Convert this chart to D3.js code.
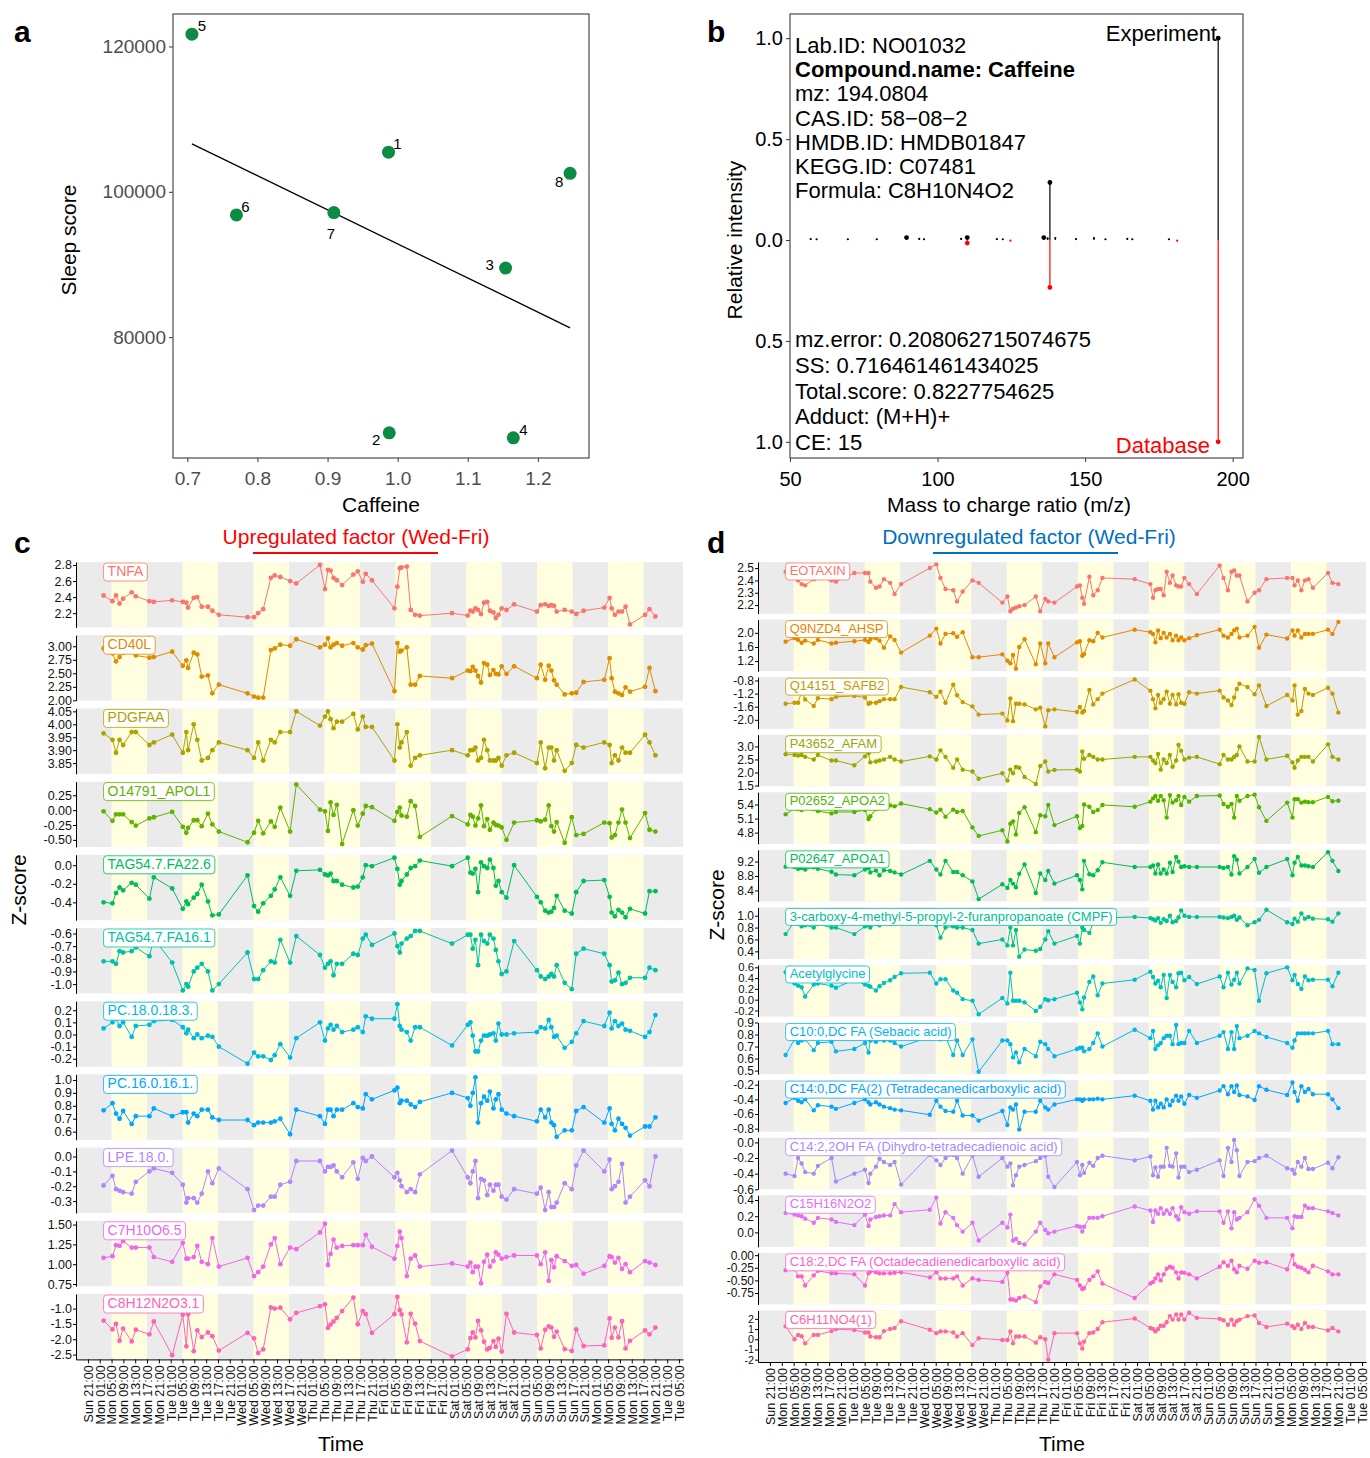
<!DOCTYPE html>
<html>
<head>
<meta charset="utf-8">
<script src="https://cdn.jsdelivr.net/npm/d3@7"></script>
<style>
body { margin: 0; background: #fff; }
svg { font-family: "Liberation Sans", Arial, Helvetica, sans-serif; }
</style>
</head>
<body>
<svg width="1370" height="1458"></svg>
<script>
// ---- panel a: caffeine vs sleep score
var subjects = [1, 2, 3, 4, 5, 6, 7, 8];
var caffeine = [0.987, 0.988, 1.154, 1.165, 0.7065, 0.770, 0.909, 1.246];
var sleepScore = [105460, 66840, 89510, 66150, 121690, 96820, 97140, 102540];
var caffeineTicks = [0.7, 0.8, 0.9, 1.0, 1.1, 1.2];
var sleepTicks = [80000, 100000, 120000];

// ---- panel b: MS2 spectrum match
var expMz = [57.0, 59.0, 69.6, 79.4, 89.5, 93.8, 95.4, 108.0, 110.07, 120.1, 122.1, 136.0, 137.3, 138.07, 139.9, 146.9, 153.0, 156.9, 164.3, 166.0, 178.4, 195.09];
var expInt = [0.005, 0.004, 0.004, 0.004, 0.012, 0.006, 0.004, 0.006, 0.012, 0.005, 0.004, 0.012, 0.008, 0.285, 0.010, 0.005, 0.010, 0.004, 0.006, 0.004, 0.004, 1.0];
var dbMz = [110.07, 124.7, 138.07, 181.2, 195.09];
var dbInt = [0.015, 0.003, 0.235, 0.003, 1.0];
var infoTop = ["Lab.ID: NO01032", "Compound.name: Caffeine", "mz: 194.0804", "CAS.ID: 58\u221208\u22122", "HMDB.ID: HMDB01847", "KEGG.ID: C07481", "Formula: C8H10N4O2"];
var infoBottom = ["mz.error: 0.208062715074675", "SS: 0.716461461434025", "Total.score: 0.8227754625", "Adduct: (M+H)+", "CE: 15"];

// ---- panels c/d: sampling times (hours after Sun 21:00) and day bands (05:00-17:00)
var times = [5.3, 8.3, 9.5, 10.7, 11.9, 14.8, 16.2, 20.8, 22.3, 28.5,
  32.1, 33.3, 33.9, 35.8, 37, 38.5, 40.6, 42.1, 44.3, 54,
  56.2, 57.6, 59.3, 61.9, 63.2, 65.1, 68.4, 70.5, 78.5, 80.2,
  81.2, 82.1, 83.1, 84.2, 86, 89.8, 91.3, 93, 94, 96.1,
  103.7, 104.7, 105.5, 106.1, 107.9, 109.2, 110.7, 112.3, 123.2, 128.5,
  129.4, 130.2, 131.1, 132, 133, 134, 135.1, 136, 137.2, 138,
  138.9, 140, 141.6, 144.2, 151.9, 153.2, 154.7, 155.9, 156.8, 157.7,
  158.6, 161.3, 163.7, 165.2, 167.7, 174.7, 176.5, 177.2, 178.3, 179.5,
  180.7, 181.9, 183.4, 188.5, 190, 192];
var dayStarts = [8, 32, 56, 80, 104, 128, 152, 176];

// upregulated factor
var tnfa = [2.42, 2.35, 2.42, 2.32, 2.38, 2.46, 2.41, 2.35, 2.34, 2.36,
  2.34, 2.33, 2.27, 2.39, 2.40, 2.28, 2.28, 2.23, 2.18, 2.15,
  2.15, 2.20, 2.25, 2.64, 2.67, 2.65, 2.60, 2.57, 2.80, 2.50,
  2.74, 2.73, 2.64, 2.61, 2.55, 2.68, 2.72, 2.59, 2.69, 2.61,
  2.26, 2.53, 2.76, 2.77, 2.78, 2.24, 2.18, 2.17, 2.20, 2.17,
  2.23, 2.22, 2.26, 2.24, 2.19, 2.33, 2.34, 2.23, 2.21, 2.14,
  2.18, 2.26, 2.24, 2.31, 2.22, 2.30, 2.31, 2.29, 2.30, 2.29,
  2.22, 2.24, 2.22, 2.19, 2.23, 2.27, 2.39, 2.26, 2.18, 2.22,
  2.22, 2.28, 2.06, 2.18, 2.25, 2.16];
var cd40l = [2.96, 2.87, 2.72, 2.80, 2.88, 2.93, 2.83, 2.79, 2.80, 2.90,
  2.64, 2.74, 2.60, 2.88, 2.85, 2.44, 2.46, 2.13, 2.29, 2.13,
  2.07, 2.05, 2.05, 2.93, 2.96, 3.03, 3.01, 3.13, 2.98, 3.03,
  3.15, 2.98, 3.03, 3.06, 3.01, 3.06, 2.98, 2.94, 3.02, 3.05,
  2.17, 3.06, 2.90, 2.92, 2.98, 2.29, 2.29, 2.45, 2.41, 2.55,
  2.54, 2.62, 2.55, 2.45, 2.33, 2.69, 2.66, 2.47, 2.56, 2.49,
  2.48, 2.63, 2.49, 2.63, 2.41, 2.66, 2.38, 2.64, 2.55, 2.37,
  2.29, 2.11, 2.13, 2.14, 2.34, 2.38, 2.78, 2.41, 2.16, 2.13,
  2.10, 2.24, 2.16, 2.25, 2.60, 2.17];
var pdgfaa = [3.965, 3.94, 3.89, 3.94, 3.92, 3.97, 3.97, 3.92, 3.93, 3.96,
  3.89, 3.97, 3.90, 4.00, 3.94, 3.86, 3.87, 3.90, 3.93, 3.90,
  3.87, 3.93, 3.86, 3.94, 3.93, 3.97, 3.97, 4.05, 3.995, 4.03,
  4.05, 4.02, 3.985, 4.01, 4.01, 4.04, 3.98, 4.03, 3.99, 3.99,
  3.86, 4.00, 3.91, 3.93, 3.97, 3.84, 3.87, 3.88, 3.90, 3.88,
  3.90, 3.90, 3.91, 3.86, 3.87, 3.94, 3.90, 3.86, 3.86, 3.86,
  3.87, 3.84, 3.88, 3.89, 3.85, 3.93, 3.83, 3.91, 3.91, 3.86,
  3.90, 3.82, 3.85, 3.92, 3.91, 3.93, 3.92, 3.85, 3.88, 3.86,
  3.91, 3.89, 3.89, 3.96, 3.93, 3.88];
var apol1 = [-0.02, -0.18, -0.07, -0.07, -0.07, -0.20, -0.26, -0.14, -0.12, -0.03,
  -0.28, -0.38, -0.30, -0.17, -0.17, -0.27, -0.06, -0.24, -0.36, -0.54,
  -0.38, -0.18, -0.39, -0.19, -0.28, 0.04, -0.36, 0.43, 0.01, -0.02,
  -0.35, 0.13, -0.08, 0.09, -0.57, 0.00, -0.26, -0.06, 0.07, 0.05,
  -0.18, -0.03, 0.04, -0.09, -0.11, 0.15, 0.07, -0.45, -0.10, -0.24,
  -0.08, -0.11, -0.26, -0.14, 0.08, -0.27, -0.15, -0.33, -0.21, -0.25,
  -0.26, -0.29, -0.50, -0.21, -0.17, -0.19, -0.16, 0.08, -0.27, -0.36,
  -0.20, -0.55, -0.12, -0.42, -0.40, -0.21, -0.22, -0.46, -0.42, -0.21,
  0.01, -0.21, -0.47, -0.05, -0.33, -0.36];
var tag226 = [-0.40, -0.41, -0.30, -0.24, -0.27, -0.19, -0.21, -0.36, -0.13, -0.25,
  -0.47, -0.39, -0.42, -0.35, -0.31, -0.21, -0.39, -0.54, -0.53, -0.11,
  -0.44, -0.50, -0.41, -0.33, -0.26, -0.13, -0.33, -0.06, -0.05, -0.10,
  -0.11, -0.09, -0.17, -0.17, -0.21, -0.24, -0.23, -0.13, 0.00, -0.01,
  0.08, -0.04, -0.21, -0.17, -0.10, -0.03, -0.01, 0.05, -0.01, 0.08,
  -0.08, -0.09, -0.04, -0.29, 0.03, -0.01, -0.03, 0.06, -0.03, -0.22,
  -0.17, -0.29, -0.35, 0.00, -0.34, -0.40, -0.49, -0.51, -0.50, -0.46,
  -0.33, -0.49, -0.52, -0.29, -0.17, -0.16, -0.34, -0.51, -0.55, -0.48,
  -0.51, -0.56, -0.47, -0.52, -0.28, -0.28];
var tag161 = [-0.82, -0.82, -0.84, -0.74, -0.75, -0.74, -0.71, -0.78, -0.64, -0.83,
  -1.05, -1.00, -1.02, -0.90, -0.87, -0.84, -0.90, -1.05, -1.00, -0.75,
  -0.96, -0.96, -0.89, -0.82, -0.83, -0.65, -0.83, -0.62, -0.77, -0.87,
  -0.84, -0.82, -0.93, -0.84, -0.84, -0.76, -0.77, -0.64, -0.61, -0.69,
  -0.60, -0.70, -0.75, -0.68, -0.64, -0.62, -0.58, -0.58, -0.68, -0.61,
  -0.61, -0.72, -0.65, -0.85, -0.61, -0.66, -0.68, -0.61, -0.64, -0.73,
  -0.82, -0.92, -0.90, -0.66, -0.89, -0.94, -0.96, -0.94, -0.92, -0.94,
  -0.85, -0.99, -1.04, -0.76, -0.72, -0.76, -0.85, -0.98, -0.97, -0.91,
  -1.00, -0.99, -0.95, -0.95, -0.87, -0.89];
var pc1818 = [0.05, 0.10, 0.13, 0.07, 0.10, -0.02, 0.07, 0.08, 0.11, 0.12,
  0.06, 0.01, 0.04, -0.03, 0.00, -0.03, -0.01, -0.02, -0.10, -0.24,
  -0.15, -0.18, -0.18, -0.21, -0.17, -0.08, -0.19, -0.03, 0.10, -0.05,
  0.05, 0.08, 0.04, 0.07, 0.02, 0.04, 0.06, 0.02, 0.15, 0.13,
  0.13, 0.25, 0.07, 0.04, 0.02, -0.05, 0.06, 0.06, -0.09, 0.08,
  0.10, -0.01, -0.14, -0.14, -0.05, -0.01, -0.01, 0.00, 0.01, -0.05,
  0.09, 0.00, 0.00, 0.01, 0.02, 0.06, 0.05, 0.12, 0.06, -0.02,
  -0.01, -0.11, -0.06, 0.01, 0.11, 0.07, 0.18, 0.05, 0.11, 0.07,
  0.09, 0.04, 0.03, -0.02, 0.02, 0.16];
var pc1616 = [0.765, 0.82, 0.74, 0.70, 0.76, 0.66, 0.72, 0.72, 0.78, 0.72,
  0.75, 0.75, 0.67, 0.74, 0.72, 0.77, 0.77, 0.71, 0.69, 0.69,
  0.65, 0.67, 0.67, 0.67, 0.68, 0.70, 0.58, 0.77, 0.72, 0.66,
  0.77, 0.77, 0.72, 0.77, 0.77, 0.82, 0.79, 0.78, 0.89, 0.85,
  0.92, 0.94, 0.82, 0.84, 0.84, 0.81, 0.79, 0.83, 0.90, 0.86,
  0.80, 0.90, 1.02, 0.67, 0.82, 0.87, 0.84, 0.91, 0.78, 0.85,
  0.89, 0.77, 0.74, 0.72, 0.68, 0.77, 0.71, 0.77, 0.67, 0.65,
  0.56, 0.61, 0.61, 0.76, 0.79, 0.67, 0.78, 0.66, 0.61, 0.70,
  0.66, 0.63, 0.57, 0.64, 0.64, 0.71];
var lpe180 = [-0.195, -0.13, -0.22, -0.23, -0.24, -0.25, -0.17, -0.10, -0.08, -0.11,
  -0.19, -0.31, -0.28, -0.28, -0.31, -0.25, -0.10, -0.18, -0.08, -0.22,
  -0.36, -0.33, -0.33, -0.27, -0.27, -0.19, -0.17, -0.03, -0.03, -0.10,
  -0.07, -0.07, -0.06, -0.10, -0.14, -0.04, -0.15, -0.01, -0.03, 0.00,
  -0.14, -0.11, -0.16, -0.20, -0.24, -0.22, -0.24, -0.12, 0.04, -0.14,
  -0.18, -0.10, -0.03, -0.28, -0.15, -0.16, -0.26, -0.19, -0.23, -0.19,
  -0.19, -0.27, -0.29, -0.22, -0.25, -0.21, -0.36, -0.24, -0.34, -0.34,
  -0.31, -0.18, -0.22, -0.06, 0.04, -0.10, -0.02, -0.22, -0.20, -0.17,
  -0.05, -0.31, -0.27, -0.16, -0.20, 0.00];
var c7h10 = [1.08, 1.10, 1.24, 1.23, 1.29, 1.21, 1.21, 1.21, 1.09, 1.03,
  1.27, 1.07, 1.07, 1.09, 1.23, 1.03, 1.00, 1.33, 0.97, 1.08,
  0.85, 0.90, 0.97, 1.25, 1.33, 1.00, 1.21, 1.19, 1.40, 1.51,
  0.99, 1.13, 1.31, 1.21, 1.23, 1.24, 1.24, 1.24, 1.37, 1.22,
  1.07, 1.23, 1.41, 1.33, 0.85, 1.07, 1.11, 0.97, 1.01, 0.97,
  1.02, 0.90, 0.97, 0.97, 0.76, 1.03, 1.12, 0.97, 1.04, 1.15,
  1.12, 1.07, 1.09, 1.11, 1.11, 1.00, 1.15, 0.79, 1.05, 0.96,
  1.10, 1.04, 0.98, 0.99, 0.88, 0.98, 1.10, 1.09, 1.02, 1.08,
  0.94, 1.00, 0.90, 1.04, 1.02, 0.99];
var c8h12 = [-1.39, -1.68, -1.50, -2.05, -1.65, -2.07, -1.69, -1.84, -1.42, -2.52,
  -1.20, -2.23, -1.18, -2.39, -1.71, -1.93, -1.78, -1.90, -2.37, -1.79,
  -1.97, -2.45, -2.33, -0.96, -1.00, -0.97, -1.35, -1.14, -0.92, -0.86,
  -1.63, -1.52, -1.42, -1.30, -1.08, -0.64, -1.51, -1.08, -1.18, -1.79,
  -1.18, -0.62, -1.05, -1.19, -2.10, -1.17, -1.49, -2.06, -2.56, -2.33,
  -1.96, -1.78, -1.94, -1.40, -1.71, -2.08, -2.33, -2.28, -2.06, -2.25,
  -1.98, -2.40, -1.17, -1.78, -1.86, -2.30, -1.69, -1.58, -1.62, -1.92,
  -1.75, -2.32, -2.38, -1.68, -2.22, -2.20, -1.32, -1.95, -1.62, -1.94,
  -1.41, -2.30, -2.05, -1.71, -1.84, -1.62];

// downregulated factor
var eotaxin = [2.47, 2.45, 2.40, 2.37, 2.36, 2.41, 2.42, 2.40, 2.39, 2.46,
  2.46, 2.46, 2.39, 2.34, 2.35, 2.41, 2.38, 2.29, 2.37, 2.50,
  2.53, 2.42, 2.33, 2.32, 2.23, 2.31, 2.40, 2.38, 2.22, 2.27,
  2.15, 2.17, 2.18, 2.19, 2.20, 2.27, 2.15, 2.25, 2.23, 2.22,
  2.35, 2.36, 2.26, 2.21, 2.43, 2.28, 2.32, 2.42, 2.41, 2.37,
  2.26, 2.32, 2.33, 2.33, 2.28, 2.47, 2.38, 2.44, 2.36, 2.35,
  2.35, 2.42, 2.37, 2.29, 2.52, 2.42, 2.32, 2.47, 2.48, 2.44,
  2.44, 2.23, 2.30, 2.32, 2.41, 2.42, 2.42, 2.36, 2.40, 2.32,
  2.40, 2.41, 2.34, 2.46, 2.38, 2.37];
var ahsp = [1.75, 1.85, 1.80, 1.72, 1.78, 1.70, 1.80, 1.70, 1.72, 1.76,
  1.80, 1.74, 1.82, 1.85, 1.78, 1.58, 1.90, 1.80, 1.44, 1.92,
  2.12, 1.70, 1.97, 1.99, 1.89, 2.02, 1.31, 1.31, 1.39, 1.21,
  1.14, 1.37, 0.98, 1.60, 1.82, 1.11, 1.70, 1.14, 1.70, 1.31,
  1.73, 1.76, 1.35, 1.40, 1.79, 1.76, 2.00, 1.87, 2.09, 2.02,
  1.97, 1.73, 2.07, 1.85, 2.00, 1.87, 1.97, 1.79, 1.92, 1.79,
  1.87, 1.79, 1.85, 1.93, 2.09, 1.92, 1.87, 1.97, 2.07, 2.12,
  1.87, 1.92, 2.17, 1.58, 1.95, 1.84, 2.07, 1.92, 2.07, 1.87,
  1.97, 1.97, 1.97, 2.09, 1.97, 2.31];
var safb2 = [-1.51, -1.48, -1.48, -1.14, -1.38, -1.58, -1.34, -1.37, -1.30, -1.27,
  -1.32, -1.51, -1.48, -1.48, -1.43, -1.37, -1.37, -1.37, -1.00, -1.16,
  -1.30, -1.14, -1.48, -0.93, -1.25, -1.46, -1.59, -1.84, -1.81, -2.02,
  -1.35, -2.04, -1.51, -1.51, -1.53, -1.68, -1.63, -2.20, -1.71, -1.68,
  -1.76, -1.61, -1.78, -1.73, -1.09, -1.53, -1.37, -1.20, -0.77, -1.11,
  -1.37, -1.65, -1.24, -1.48, -1.37, -1.14, -1.51, -1.24, -1.53, -1.22,
  -1.48, -1.51, -1.16, -1.20, -1.11, -1.32, -1.41, -1.55, -1.32, -1.06,
  -0.90, -1.00, -1.22, -0.95, -1.58, -1.24, -1.41, -0.95, -1.84, -1.73,
  -1.06, -1.20, -1.24, -1.02, -1.20, -1.78];
var afam = [2.70, 2.67, 2.65, 2.67, 2.60, 2.50, 2.67, 2.46, 2.46, 2.28,
  2.62, 2.74, 2.39, 2.42, 2.46, 2.50, 2.60, 2.50, 2.42, 2.62,
  2.50, 2.85, 2.60, 2.18, 2.50, 2.11, 2.04, 1.76, 1.97, 1.69,
  2.11, 1.97, 2.21, 2.18, 1.83, 1.56, 2.25, 2.42, 2.04, 2.10,
  2.11, 2.04, 2.81, 2.53, 2.67, 2.60, 2.50, 2.50, 2.60, 2.60,
  2.46, 2.36, 2.71, 2.11, 2.50, 2.36, 2.67, 2.22, 2.46, 3.06,
  2.83, 2.50, 2.57, 2.60, 2.32, 2.67, 2.50, 2.50, 2.60, 2.67,
  3.00, 2.42, 2.42, 3.36, 2.50, 2.64, 2.39, 2.18, 2.46, 2.60,
  2.60, 2.60, 2.42, 3.08, 2.60, 2.50];
var apoa2 = [5.19, 5.32, 5.30, 5.28, 5.34, 5.30, 5.26, 5.21, 5.24, 5.24,
  5.28, 5.09, 5.15, 5.30, 5.34, 5.36, 5.38, 5.36, 5.42, 5.30,
  5.23, 5.29, 5.14, 5.29, 5.24, 5.26, 4.91, 4.73, 4.85, 4.61,
  4.99, 5.04, 4.76, 5.22, 5.34, 4.81, 5.17, 5.15, 5.39, 4.96,
  5.15, 4.90, 4.94, 5.40, 5.35, 5.24, 5.28, 5.39, 5.35, 5.46,
  5.53, 5.58, 5.48, 5.58, 5.49, 5.12, 5.60, 5.44, 5.49, 5.58,
  5.39, 5.56, 5.46, 5.58, 5.59, 5.41, 5.35, 5.41, 5.12, 5.58,
  5.48, 5.58, 5.61, 5.34, 5.05, 5.44, 5.12, 5.51, 5.51, 5.44,
  5.46, 5.45, 5.45, 5.56, 5.47, 5.48];
var apoa1 = [9.06, 9.05, 9.00, 9.02, 8.98, 9.04, 9.00, 8.92, 8.84, 8.82,
  8.98, 9.02, 8.90, 8.95, 8.82, 8.96, 8.94, 8.90, 8.84, 9.22,
  8.98, 8.84, 9.22, 8.91, 8.91, 8.82, 8.65, 8.16, 8.57, 8.47,
  8.69, 8.59, 8.49, 8.86, 9.12, 8.33, 8.87, 8.69, 8.94, 8.59,
  8.82, 8.69, 8.43, 9.22, 8.85, 8.82, 8.96, 9.18, 9.05, 9.05,
  9.09, 8.87, 9.12, 8.87, 8.98, 8.87, 9.17, 8.91, 9.33, 9.20,
  9.05, 9.07, 9.05, 9.05, 9.05, 9.02, 9.05, 8.84, 9.35, 9.25,
  8.87, 9.05, 9.27, 8.89, 9.05, 9.27, 8.82, 9.17, 9.33, 9.09,
  9.09, 9.07, 9.05, 9.46, 9.22, 8.94];
var cmpf = [0.69, 0.90, 0.86, 0.82, 0.84, 0.80, 0.86, 0.80, 0.80, 0.69,
  0.82, 0.84, 0.80, 0.86, 0.84, 0.88, 0.86, 0.90, 0.92, 0.90,
  0.84, 0.63, 0.80, 0.82, 0.80, 0.80, 0.76, 0.53, 0.60, 0.50,
  0.80, 0.50, 0.76, 0.31, 0.43, 0.41, 0.44, 0.60, 0.74, 0.53,
  0.66, 0.53, 0.80, 0.76, 0.71, 0.88, 0.92, 0.96, 0.98, 0.96,
  0.94, 0.92, 0.96, 0.88, 0.94, 0.91, 1.00, 0.89, 0.91, 0.97,
  1.09, 1.00, 0.98, 0.98, 0.98, 0.97, 0.96, 0.98, 1.00, 0.93,
  0.97, 0.84, 0.89, 0.93, 1.10, 0.89, 0.86, 0.95, 0.90, 1.04,
  0.95, 0.98, 0.95, 0.94, 0.90, 1.04];
var acetylglycine = [0.51, 0.30, 0.26, 0.23, 0.06, 0.28, 0.30, 0.26, 0.22, 0.37,
  0.28, 0.26, 0.24, 0.17, 0.25, 0.31, 0.36, 0.42, 0.49, 0.50,
  0.30, 0.38, 0.38, 0.17, 0.13, 0.01, -0.02, -0.27, 0.03, -0.07,
  0.50, -0.02, -0.02, -0.02, -0.05, -0.21, -0.13, 0.01, -0.01, 0.01,
  0.13, -0.05, -0.18, 0.04, 0.33, 0.43, 0.08, 0.30, 0.37, 0.52,
  0.42, 0.30, 0.35, 0.23, 0.46, 0.03, 0.46, 0.33, 0.23, 0.49,
  0.50, 0.36, 0.42, 0.29, 0.43, 0.23, 0.50, 0.28, 0.37, 0.50,
  0.30, 0.58, 0.55, -0.02, 0.49, 0.60, 0.36, 0.46, 0.29, 0.20,
  0.43, 0.36, 0.37, 0.37, 0.25, 0.50];
var c100dc = [0.63, 0.76, 0.73, 0.75, 0.76, 0.67, 0.73, 0.74, 0.66, 0.68,
  0.73, 0.65, 0.75, 0.74, 0.76, 0.75, 0.75, 0.73, 0.70, 0.78,
  0.80, 0.76, 0.78, 0.63, 0.75, 0.63, 0.76, 0.49, 0.75, 0.75,
  0.72, 0.61, 0.65, 0.57, 0.68, 0.62, 0.74, 0.72, 0.68, 0.62,
  0.68, 0.69, 0.69, 0.66, 0.68, 0.73, 0.81, 0.70, 0.84, 0.77,
  0.83, 0.68, 0.71, 0.73, 0.77, 0.79, 0.79, 0.72, 0.88, 0.72,
  0.73, 0.73, 0.83, 0.73, 0.79, 0.82, 0.68, 0.82, 0.68, 0.87,
  0.77, 0.79, 0.83, 0.81, 0.78, 0.73, 0.69, 0.75, 0.81, 0.81,
  0.81, 0.81, 0.81, 0.83, 0.72, 0.72];
var c140dc = [-0.45, -0.38, -0.42, -0.44, -0.40, -0.55, -0.48, -0.50, -0.53, -0.45,
  -0.40, -0.44, -0.47, -0.44, -0.47, -0.50, -0.52, -0.54, -0.55, -0.61,
  -0.42, -0.50, -0.56, -0.57, -0.42, -0.62, -0.62, -0.69, -0.56, -0.75,
  -0.51, -0.54, -0.47, -0.81, -0.57, -0.57, -0.42, -0.51, -0.54, -0.47,
  -0.40, -0.40, -0.42, -0.40, -0.40, -0.40, -0.39, -0.40, -0.35, -0.42,
  -0.54, -0.42, -0.51, -0.46, -0.51, -0.40, -0.48, -0.42, -0.35, -0.42,
  -0.36, -0.46, -0.34, -0.38, -0.28, -0.22, -0.33, -0.22, -0.30, -0.21,
  -0.34, -0.36, -0.41, -0.22, -0.27, -0.34, -0.17, -0.30, -0.42, -0.22,
  -0.30, -0.26, -0.33, -0.33, -0.40, -0.52];
var c142oh = [-0.40, -0.43, -0.20, -0.27, -0.38, -0.40, -0.30, -0.20, -0.50, -0.40,
  -0.35, -0.52, -0.40, -0.31, -0.21, -0.25, -0.29, -0.25, -0.54, -0.16,
  -0.23, -0.29, -0.20, -0.16, -0.20, -0.40, -0.17, -0.44, -0.20, -0.31,
  -0.27, -0.55, -0.42, -0.31, -0.29, -0.24, -0.20, -0.17, -0.44, -0.57,
  -0.25, -0.42, -0.29, -0.39, -0.26, -0.30, -0.20, -0.17, -0.23, -0.18,
  -0.42, -0.32, -0.44, -0.31, -0.31, -0.07, -0.30, -0.31, -0.14, -0.45,
  -0.31, -0.31, -0.38, -0.35, -0.23, -0.43, -0.07, -0.25, 0.03, -0.10,
  -0.43, -0.25, -0.24, -0.20, -0.17, -0.33, -0.35, -0.40, -0.25, -0.31,
  -0.20, -0.34, -0.34, -0.26, -0.33, -0.19];
var c15h16 = [0.24, 0.22, 0.21, 0.20, 0.17, 0.12, 0.18, 0.16, 0.13, 0.09,
  0.22, 0.08, 0.16, 0.19, 0.20, 0.21, 0.21, 0.35, 0.25, 0.28,
  0.43, 0.11, 0.25, 0.18, 0.09, 0.01, 0.12, -0.10, 0.12, 0.06,
  0.22, -0.10, -0.08, -0.13, -0.15, 0.01, 0.12, 0.03, -0.01, 0.01,
  0.08, 0.07, 0.01, 0.07, 0.18, 0.18, 0.18, 0.20, 0.32, 0.27,
  0.13, 0.27, 0.23, 0.30, 0.23, 0.27, 0.23, 0.30, 0.20, 0.16,
  0.31, 0.25, 0.23, 0.26, 0.26, 0.12, 0.26, 0.05, 0.25, 0.16,
  0.18, 0.25, 0.41, 0.33, 0.18, 0.18, 0.05, 0.20, 0.19, 0.19,
  0.33, 0.30, 0.30, 0.26, 0.24, 0.21];
var c182dc = [-0.30, -0.27, -0.42, -0.42, -0.60, -0.40, -0.31, -0.36, -0.36, -0.38,
  -0.60, -0.36, -0.32, -0.34, -0.36, -0.36, -0.36, -0.35, -0.34, -0.44,
  -0.34, -0.46, -0.46, -0.46, -0.42, -0.60, -0.46, -0.49, -0.53, -0.35,
  -0.88, -0.88, -0.90, -0.85, -0.82, -0.93, -0.62, -0.53, -0.55, -0.38,
  -0.49, -0.60, -0.67, -0.65, -0.49, -0.42, -0.32, -0.56, -0.85, -0.56,
  -0.53, -0.46, -0.38, -0.50, -0.38, -0.27, -0.23, -0.25, -0.34, -0.46,
  -0.34, -0.35, -0.38, -0.46, -0.23, -0.14, -0.21, -0.11, -0.28, -0.34,
  -0.21, -0.27, -0.11, -0.15, -0.14, -0.28, 0.00, -0.18, -0.23, -0.25,
  -0.29, -0.34, -0.21, -0.32, -0.38, -0.38];
var c6h11 = [1.27, 0.00, 0.43, 0.30, -0.40, 0.43, 0.43, 0.80, 1.00, 0.90,
  0.67, 0.67, 0.27, 0.20, 0.20, 0.80, 1.00, 1.10, 1.77, 0.93,
  0.60, 0.77, 0.77, 0.67, 0.27, 0.60, -0.57, 0.10, -0.07, -0.07,
  0.77, -0.40, 0.27, 0.27, 0.27, -0.33, 0.20, 0.00, -2.00, 0.60,
  0.60, -0.40, -0.90, -0.23, 0.60, 0.67, 1.00, 1.67, 2.03, 1.10,
  1.00, 0.77, 1.00, 1.33, 1.33, 1.67, 2.27, 1.93, 2.43, 1.93,
  2.43, 1.93, 2.60, 2.10, 2.00, 1.87, 1.43, 1.93, 1.43, 1.77,
  1.93, 2.27, 2.33, 1.60, 1.20, 1.53, 1.27, 1.10, 1.43, 1.00,
  1.60, 1.20, 1.20, 0.87, 1.10, 0.77];

var upNames = ["TNFA", "CD40L", "PDGFAA", "O14791_APOL1", "TAG54.7.FA22.6", "TAG54.7.FA16.1", "PC.18.0.18.3.", "PC.16.0.16.1.", "LPE.18.0.", "C7H10O6.5", "C8H12N2O3.1"];
var upValues = [tnfa, cd40l, pdgfaa, apol1, tag226, tag161, pc1818, pc1616, lpe180, c7h10, c8h12];
var upTicks = [["2.2", "2.4", "2.6", "2.8"], ["2.00", "2.25", "2.50", "2.75", "3.00"], ["3.85", "3.90", "3.95", "4.00", "4.05"],
  ["-0.50", "-0.25", "0.00", "0.25"], ["-0.4", "-0.2", "0.0"], ["-1.0", "-0.9", "-0.8", "-0.7", "-0.6"],
  ["-0.2", "-0.1", "0.0", "0.1", "0.2"], ["0.6", "0.7", "0.8", "0.9", "1.0"], ["-0.3", "-0.2", "-0.1", "0.0"],
  ["0.75", "1.00", "1.25", "1.50"], ["-2.5", "-2.0", "-1.5", "-1.0"]];
var upColors = ["#F8766D", "#DB8E00", "#AEA200", "#64B200", "#00BD5C", "#00C1A7", "#00BADE", "#00A6FF", "#B385FF", "#EF67EB", "#FF63B6"];

var downNames = ["EOTAXIN", "Q9NZD4_AHSP", "Q14151_SAFB2", "P43652_AFAM", "P02652_APOA2", "P02647_APOA1",
  "3-carboxy-4-methyl-5-propyl-2-furanpropanoate (CMPF)", "Acetylglycine", "C10:0,DC FA (Sebacic acid)",
  "C14:0,DC FA(2) (Tetradecanedicarboxylic acid)", "C14:2,2OH FA (Dihydro-tetradecadienoic acid)", "C15H16N2O2",
  "C18:2,DC FA (Octadecadienedicarboxylic acid)", "C6H11NO4(1)"];
var downValues = [eotaxin, ahsp, safb2, afam, apoa2, apoa1, cmpf, acetylglycine, c100dc, c140dc, c142oh, c15h16, c182dc, c6h11];
var downTicks = [["2.2", "2.3", "2.4", "2.5"], ["1.2", "1.6", "2.0"], ["-2.0", "-1.6", "-1.2", "-0.8"], ["1.5", "2.0", "2.5", "3.0"],
  ["4.8", "5.1", "5.4"], ["8.4", "8.8", "9.2"], ["0.4", "0.6", "0.8", "1.0"], ["-0.2", "0.0", "0.2", "0.4", "0.6"],
  ["0.5", "0.6", "0.7", "0.8", "0.9"], ["-0.8", "-0.6", "-0.4", "-0.2"], ["-0.6", "-0.4", "-0.2", "0.0"], ["0.0", "0.2", "0.4"],
  ["-0.75", "-0.50", "-0.25", "0.00"], ["-2", "-1", "0", "1", "2"]];
var downColors = ["#F8766D", "#E38900", "#C49A00", "#99A800", "#53B400", "#00BC56", "#00C094", "#00BFC4", "#00B6EB", "#06A4FF", "#A58AFF", "#DF70F8", "#FB61D7", "#FF66A8"];

var svg = d3.select("svg");
svg.append("rect").attr("width", 1370).attr("height", 1458).attr("fill", "#fff");

function padded(ext) {
  var p = (ext[1] - ext[0]) * 0.05;
  return [ext[0] - p, ext[1] + p];
}

// panel letters
[["a", 14, 42], ["b", 707, 42], ["c", 14, 553], ["d", 707, 553]].forEach(function (l) {
  svg.append("text").attr("x", l[1]).attr("y", l[2]).text(l[0])
    .style("font-size", "30px").style("font-weight", "bold");
});

// ================= panel a =================
(function () {
  var x = d3.scaleLinear().domain(padded(d3.extent(caffeine))).range([173, 589]);
  var y = d3.scaleLinear().domain(padded(d3.extent(sleepScore))).range([458, 14]);
  var g = svg.append("g");

  var xa = g.append("g").attr("transform", "translate(0,458)")
    .call(d3.axisBottom(x).tickValues(caffeineTicks).tickFormat(d3.format(".1f")).tickSize(4).tickSizeOuter(0));
  var ya = g.append("g").attr("transform", "translate(173,0)")
    .call(d3.axisLeft(y).tickValues(sleepTicks).tickFormat(d3.format("d")).tickSize(4).tickSizeOuter(0));
  [xa, ya].forEach(function (a) {
    a.select(".domain").remove();
    a.selectAll("line").attr("stroke", "#333");
    a.selectAll("text").attr("fill", "#4D4D4D").style("font-size", "19px");
  });
  xa.selectAll("text").attr("dy", "1.05em");

  g.append("rect").attr("x", 173).attr("y", 14).attr("width", 416).attr("height", 444)
    .attr("fill", "none").attr("stroke", "#4D4D4D").attr("stroke-width", 1.2);

  // least squares fit
  var mx = d3.mean(caffeine), my = d3.mean(sleepScore);
  var sxy = d3.sum(caffeine, function (c, i) { return (c - mx) * (sleepScore[i] - my); });
  var sxx = d3.sum(caffeine, function (c) { return (c - mx) * (c - mx); });
  var slope = sxy / sxx, icpt = my - slope * mx;
  var ext = d3.extent(caffeine);
  g.append("path").datum(ext)
    .attr("d", d3.line().x(function (d) { return x(d); }).y(function (d) { return y(icpt + slope * d); }))
    .attr("stroke", "#000").attr("stroke-width", 1.3).attr("fill", "none");

  var pts = subjects.map(function (s, i) { return {id: s, x: caffeine[i], y: sleepScore[i]}; });
  g.selectAll("circle").data(pts).join("circle")
    .attr("cx", function (d) { return x(d.x); }).attr("cy", function (d) { return y(d.y); })
    .attr("r", 6.5).attr("fill", "#0C8B44");

  // label offsets (like ggrepel placement)
  var nudge = {1: [9, -3], 2: [-13, 12], 3: [-16, 2], 4: [10, -3], 5: [10, -3], 6: [9, -3], 7: [-3, 26], 8: [-11, 14]};
  g.selectAll("text.pl").data(pts).join("text").attr("class", "pl")
    .attr("x", function (d) { return x(d.x) + nudge[d.id][0]; })
    .attr("y", function (d) { return y(d.y) + nudge[d.id][1]; })
    .attr("text-anchor", "middle").style("font-size", "15px")
    .text(function (d) { return d.id; });

  g.append("text").attr("x", 381).attr("y", 512).attr("text-anchor", "middle")
    .style("font-size", "21px").text("Caffeine");
  g.append("text").attr("transform", "translate(76,240) rotate(-90)").attr("text-anchor", "middle")
    .style("font-size", "21px").text("Sleep score");
})();

// ================= panel b =================
(function () {
  var x = d3.scaleLinear().domain([50, 203.5]).range([790, 1243]);
  var y = d3.scaleLinear().domain([-1.08, 1.12]).range([458, 14]);
  var g = svg.append("g");

  var xa = g.append("g").attr("transform", "translate(0,458)")
    .call(d3.axisBottom(x).tickValues([50, 100, 150, 200]).tickSize(4).tickSizeOuter(0));
  var ya = g.append("g").attr("transform", "translate(790,0)")
    .call(d3.axisLeft(y).tickValues([-1, -0.5, 0, 0.5, 1]).tickFormat(function (d) { return d3.format(".1f")(Math.abs(d)); })
      .tickSize(4).tickSizeOuter(0));
  [xa, ya].forEach(function (a) {
    a.select(".domain").remove();
    a.selectAll("line").attr("stroke", "#333");
    a.selectAll("text").attr("fill", "#000").style("font-size", "20px");
  });
  xa.selectAll("text").attr("dy", "1.05em");

  g.append("rect").attr("x", 790).attr("y", 14).attr("width", 453).attr("height", 444)
    .attr("fill", "none").attr("stroke", "#4D4D4D").attr("stroke-width", 1.2);

  var exp = expMz.map(function (m, i) { return {mz: m, v: expInt[i]}; });
  var db = dbMz.map(function (m, i) { return {mz: m, v: -dbInt[i]}; });
  [[exp, "#000"], [db, "#FF0000"]].forEach(function (p) {
    g.selectAll(null).data(p[0]).join("line")
      .attr("x1", function (d) { return x(d.mz); }).attr("x2", function (d) { return x(d.mz); })
      .attr("y1", y(0)).attr("y2", function (d) { return y(d.v); })
      .attr("stroke", p[1]).attr("stroke-width", 1.2);
    g.selectAll(null).data(p[0]).join("circle")
      .attr("cx", function (d) { return x(d.mz); }).attr("cy", function (d) { return y(d.v); })
      .attr("r", function (d) { return Math.abs(d.v) > 0.011 ? 2.4 : 1.1; }).attr("fill", p[1]);
  });

  g.selectAll("text.it").data(infoTop).join("text").attr("class", "it")
    .attr("x", 795).attr("y", function (d, i) { return 53 + i * 24.2; })
    .style("font-size", "22px").style("font-weight", function (d, i) { return i === 1 ? "bold" : "normal"; })
    .text(function (d) { return d; });
  g.selectAll("text.ib").data(infoBottom).join("text").attr("class", "ib")
    .attr("x", 795).attr("y", function (d, i) { return 347 + i * 25.8; })
    .style("font-size", "22px").text(function (d) { return d; });

  g.append("text").attr("x", 1217).attr("y", 41).attr("text-anchor", "end")
    .style("font-size", "22px").text("Experiment");
  g.append("text").attr("x", 1210).attr("y", 453).attr("text-anchor", "end")
    .attr("fill", "#FF0000").style("font-size", "22px").text("Database");

  g.append("text").attr("x", 1009).attr("y", 512).attr("text-anchor", "middle")
    .style("font-size", "21px").text("Mass to charge ratio (m/z)");
  g.append("text").attr("transform", "translate(742,240) rotate(-90)").attr("text-anchor", "middle")
    .style("font-size", "21px").text("Relative intensity");
})();

// ================= panels c and d =================
var base = Date.UTC(2019, 0, 6, 21); // a Sunday, 21:00
function toDate(h) { return new Date(base + h * 3600000); }

function stripPanel(cfg) {
  var g = svg.append("g");
  var dom = padded(d3.extent(times));
  var x = d3.scaleUtc().domain([toDate(dom[0]), toDate(dom[1])]).range([cfg.x0, cfg.x1]);
  var n = cfg.names.length;

  cfg.names.forEach(function (name, i) {
    var top = cfg.top + i * cfg.pitch, bot = top + cfg.h;
    var vals = cfg.values[i];
    var y = d3.scaleLinear().domain(padded(d3.extent(vals))).range([bot, top]);
    var sg = g.append("g");

    sg.append("rect").attr("x", cfg.x0).attr("y", top).attr("width", cfg.x1 - cfg.x0).attr("height", cfg.h)
      .attr("fill", "#EBEBEB");
    sg.selectAll("rect.day").data(dayStarts).join("rect").attr("class", "day")
      .attr("x", function (d) { return x(toDate(d)); })
      .attr("width", function (d) { return x(toDate(d + 12)) - x(toDate(d)); })
      .attr("y", top).attr("height", cfg.h).attr("fill", "#FFFFE0");

    var pts = times.map(function (t, j) { return [t, vals[j]]; });
    sg.append("path").datum(pts)
      .attr("d", d3.line().x(function (d) { return x(toDate(d[0])); }).y(function (d) { return y(d[1]); }))
      .attr("fill", "none").attr("stroke", cfg.colors[i]).attr("stroke-width", 1);
    sg.selectAll("circle").data(pts).join("circle")
      .attr("cx", function (d) { return x(toDate(d[0])); }).attr("cy", function (d) { return y(d[1]); })
      .attr("r", cfg.r).attr("fill", cfg.colors[i]);

    var tk = cfg.ticks[i];
    var tv = tk.map(Number);
    // shrink the tick font when the ticks sit close together
    var gap = Math.abs(y(tv[0]) - y(tv[1]));
    var tfs = Math.min(cfg.tfs, gap * 1.05);
    var ya = sg.append("g").attr("transform", "translate(" + cfg.x0 + ",0)")
      .call(d3.axisLeft(y).tickValues(tv).tickFormat(function (d, k) { return tk[k]; })
        .tickSize(3).tickSizeOuter(0));
    ya.select(".domain").attr("stroke", "#000");
    ya.selectAll("line").attr("stroke", "#000");
    ya.selectAll("text").attr("fill", "#111").attr("x", -4).style("font-size", tfs + "px");

    // name label box
    var lx = x(toDate(times[0]));
    var lab = sg.append("g");
    var txt = lab.append("text").attr("x", lx + 4).attr("y", top + 2.5 + cfg.fs * 0.82)
      .attr("fill", cfg.colors[i]).style("font-size", cfg.fs + "px").text(name);
    var w = txt.node().getComputedTextLength();
    lab.insert("rect", "text").attr("x", lx).attr("y", top + 1).attr("width", w + 8).attr("height", cfg.fs + 4)
      .attr("rx", 3).attr("fill", "#fff").attr("stroke", cfg.colors[i]).attr("stroke-width", 0.8);
  });

  var axisY = cfg.top + (n - 1) * cfg.pitch + cfg.h;
  var xa = g.append("g").attr("transform", "translate(0," + axisY + ")")
    .call(d3.axisBottom(x).tickValues(d3.range(0, 201, 4).map(toDate))
      .tickFormat(d3.utcFormat("%a %H:%M")).tickSize(4).tickSizeOuter(0));
  xa.select(".domain").attr("stroke", "#000");
  xa.selectAll("line").attr("stroke", "#000");
  xa.selectAll("text").attr("transform", "rotate(-90)").attr("text-anchor", "end")
    .attr("x", -6).attr("y", 0).attr("dy", "0.35em").attr("fill", "#111").style("font-size", "12.5px");

  svg.append("text").attr("x", cfg.titleX).attr("y", 544).attr("text-anchor", "middle")
    .attr("fill", cfg.titleColor).style("font-size", "21px").text(cfg.title);
  svg.append("line").attr("x1", cfg.lineX[0]).attr("x2", cfg.lineX[1]).attr("y1", 553).attr("y2", 553)
    .attr("stroke", cfg.titleColor).attr("stroke-width", 2);
  svg.append("text").attr("transform", "translate(" + cfg.zX + "," + cfg.zY + ") rotate(-90)")
    .attr("text-anchor", "middle").style("font-size", "21px").text("Z-score");
  svg.append("text").attr("x", cfg.timeX).attr("y", 1451).attr("text-anchor", "middle")
    .style("font-size", "21px").text("Time");
}

stripPanel({
  names: upNames, values: upValues, ticks: upTicks, colors: upColors,
  x0: 76, x1: 683, top: 562, pitch: 73.2, h: 65.4, r: 2.4, fs: 14, tfs: 12.5,
  title: "Upregulated factor (Wed-Fri)", titleColor: "#FF0000", titleX: 356, lineX: [253, 438],
  zX: 26, zY: 890, timeX: 341
});
stripPanel({
  names: downNames, values: downValues, ticks: downTicks, colors: downColors,
  x0: 758, x1: 1366, top: 562, pitch: 57.57, h: 51.6, r: 2.2, fs: 13, tfs: 12,
  title: "Downregulated factor (Wed-Fri)", titleColor: "#0070C0", titleX: 1029, lineX: [933, 1118],
  zX: 724, zY: 905, timeX: 1062
});
</script>
</body>
</html>
